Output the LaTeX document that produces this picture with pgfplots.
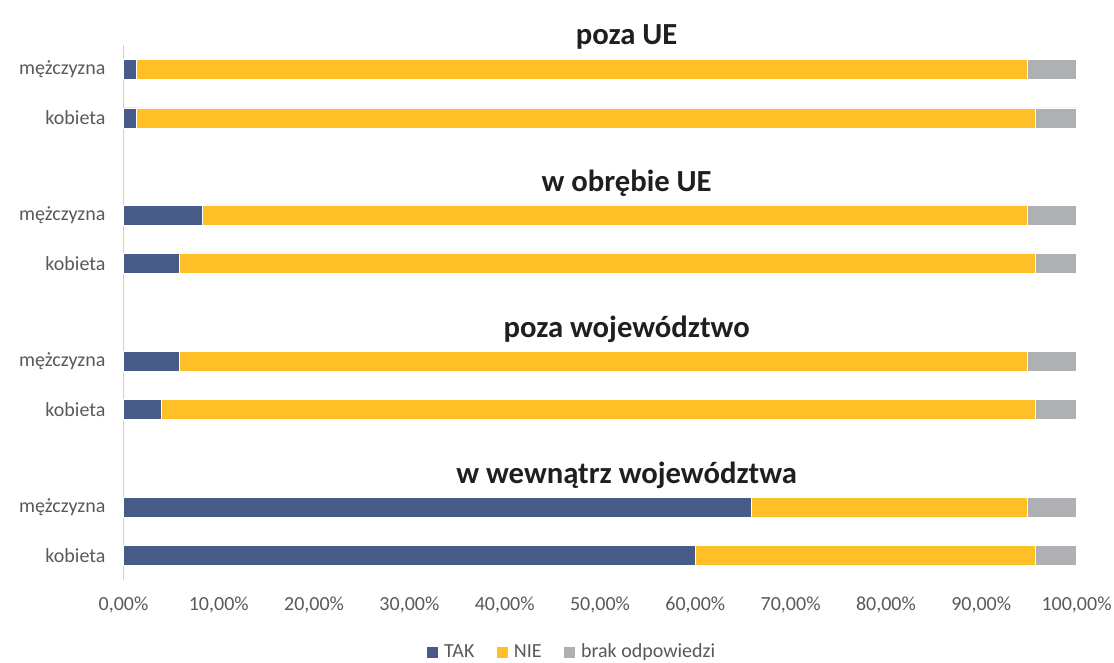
\documentclass[border=0pt]{standalone}
\usepackage{pgfplots}
\pgfplotsset{compat=1.18}
\usepackage{pgfplotstable}
\usepackage{fontspec}
\setmainfont{Carlito}
\definecolor{cTAK}{HTML}{465B87}
\definecolor{cNIE}{HTML}{FFBF26}
\definecolor{cBRAK}{HTML}{AFB0B3}
\definecolor{tgray}{HTML}{595959}
\pgfplotstableread{
y TAK NIE brak
10 1.4 93.4 5.2
9 1.4 94.3 4.3
7 8.3 86.5 5.2
6 5.9 89.8 4.3
4 5.9 88.9 5.2
3 4.0 91.7 4.3
1 65.9 28.9 5.2
0 60.0 35.7 4.3
}\data
\begin{document}
\begin{tikzpicture}
\useasboundingbox (-92.6pt,-62.25pt) rectangle (742.9pt,435pt);
\begin{axis}[
  scale only axis,
  width=714.8pt, height=401.25pt,
  xbar stacked,
  bar width=15pt,
  xmin=0, xmax=100,
  ymin=-0.5, ymax=10.5,
  clip=false,
  axis lines*=left,
  x axis line style={draw=none},
  y axis line style={draw=black!18, line width=1pt},
  major tick length=0pt,
  xtick={0,10,...,100},
  xticklabels={{0,00\%},{10,00\%},{20,00\%},{30,00\%},{40,00\%},{50,00\%},{60,00\%},{70,00\%},{80,00\%},{90,00\%},{100,00\%}},
  ytick={0,1,3,4,6,7,9,10},
  yticklabels={kobieta,mężczyzna,kobieta,mężczyzna,kobieta,mężczyzna,kobieta,mężczyzna},
  /pgf/number format/assume math mode=true,
  tick label style={font=\fontsize{15}{18}\selectfont, text=tgray},
  x tick label style={yshift=-9pt},
  y tick label style={xshift=-10pt},
  legend style={draw=none, at={(0.4706,-0.1346)}, anchor=center, legend columns=-1,
    font=\fontsize{15}{18}\selectfont, text=tgray,
    /tikz/every odd column/.append style={column sep=2pt},
    /tikz/every even column/.append style={column sep=14pt}},
  legend image code/.code={\fill[#1] (0pt,-4.5pt) rectangle (9pt,4.5pt);},
]
\addplot[fill=cTAK, draw=white, line width=0.6pt] table[x=TAK, y=y] {\data};
\addplot[fill=cNIE, draw=white, line width=0.6pt] table[x=NIE, y=y] {\data};
\addplot[fill=cBRAK, draw=white, line width=0.6pt] table[x=brak, y=y] {\data};
\legend{TAK, NIE, brak odpowiedzi}
\node[font=\bfseries\fontsize{23}{27}\selectfont, text=black!88] at (axis cs:52.8,10.66) {poza UE};
\node[font=\bfseries\fontsize{23}{27}\selectfont, text=black!88] at (axis cs:52.8,7.66) {w obrębie UE};
\node[font=\bfseries\fontsize{23}{27}\selectfont, text=black!88] at (axis cs:52.8,4.66) {poza województwo};
\node[font=\bfseries\fontsize{23}{27}\selectfont, text=black!88] at (axis cs:52.8,1.66) {w wewnątrz województwa};
\end{axis}
\end{tikzpicture}
\end{document}
